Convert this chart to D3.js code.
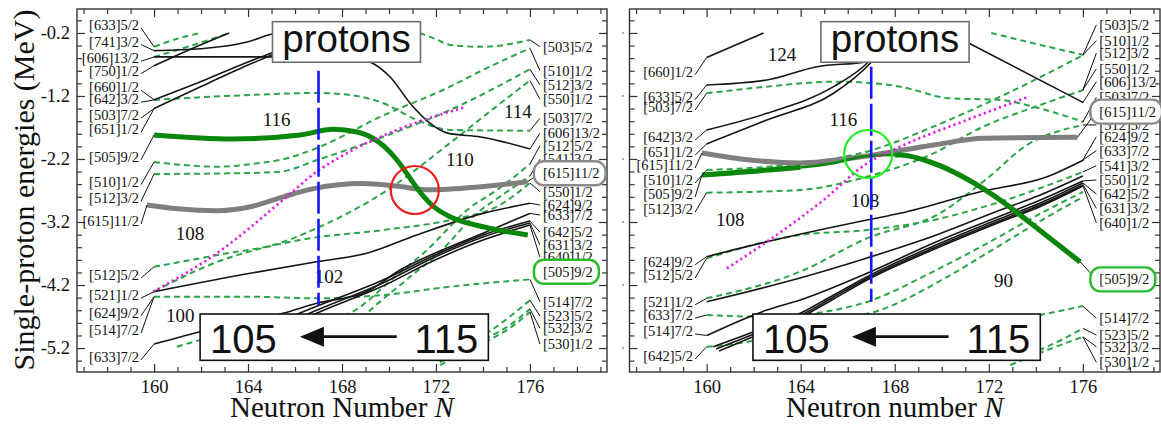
<!DOCTYPE html>
<html><head><meta charset="utf-8">
<script src="https://cdn.jsdelivr.net/npm/d3@7"></script>
<style>body{margin:0;background:#fff}svg{display:block}</style>
</head><body>
<svg id="c" width="1161" height="426"></svg>
<script>
// ---------------- DATA ----------------
const xDomain = [156.72, 179.28];
const yDomain = [0.18, -5.58];
const xMajorTicks = [160, 164, 168, 172, 176];
const xTickLabels = ["160", "164", "168", "172", "176"];
const xMinorTicks = [157,158,159,161,162,163,165,166,167,169,170,171,173,174,175,177,178,179];
const yMajorTicks = [-0.2, -1.2, -2.2, -3.2, -4.2, -5.2];
const yTickLabels = ["-0.2", "-1.2", "-2.2", "-3.2", "-4.2", "-5.2"];
const yMinorTicks = [0.0,-0.4,-0.6,-0.8,-1.0,-1.4,-1.6,-1.8,-2.0,-2.4,-2.6,-2.8,-3.0,-3.4,-3.6,-3.8,-4.0,-4.4,-4.6,-4.8,-5.0,-5.4];

// Left panel levels  [N, E]
const leftBlack = [
  [[160,-0.48],[162,-0.45],[164,-0.34],[164.9,-0.23],[165.2,-0.2]],
  [[160,-0.58],[165,-0.58],[167.5,-0.59],[168.8,-0.62],[169.3,-0.68],[170,-0.88],[171,-1.36],[171.7,-1.62],[172.5,-1.79],[173.9,-1.85],[176,-2.04]],
  [[160,-0.72],[161.6,-0.45],[163.2,-0.2]],
  [[160,-1.26],[162,-0.97],[164,-0.66],[165,-0.52],[167.1,-0.2]],
  [[160,-1.40],[162,-1.05],[164,-0.71],[165,-0.55],[167,-0.2]],
  [[160,-4.306],[164.09,-4.014],[166.92,-3.83],[169.05,-3.697],[171.18,-3.406],[174,-3.063],[176,-2.903]],
  [[160,-5.137],[161.96,-4.941],[165.49,-4.649],[166.92,-4.49],[169.05,-4.306],[170.47,-3.962],[172.6,-3.592],[174,-3.379],[176,-3.063]],
  [[163.23,-5.152],[166.21,-4.645],[169.74,-4.121],[171.87,-3.74],[174,-3.406],[176,-3.184]],
  [[163.66,-5.184],[166.64,-4.645],[169.74,-4.168],[171.87,-3.771],[174,-3.438],[176,-3.216]],
  [[163.96,-5.2],[166.94,-4.645],[169.74,-4.216],[171.87,-3.819],[174,-3.486],[176,-3.248]]
];
const leftDashed = [
  [[160,-0.42],[161,-0.29],[162,-0.2]],
  [[160,-0.58],[161.6,-0.40],[163.2,-0.2]],
  [[160,-1.263],[164.09,-1.184],[166.94,-1.152],[168.34,-1.184],[169.74,-1.311],[171.19,-1.581],[172.6,-1.74],[176,-1.751]],
  [[171.3,-0.2],[172,-0.30],[172.6,-0.39],[174,-0.42],[176,-0.31]],
  [[160,-2.248],[162.68,-2.322],[164.51,-2.263],[165.36,-2.216],[166.94,-2.025],[169.62,-1.533],[172.6,-1.052],[174,-0.787],[176,-0.443]],
  [[160,-2.438],[164.09,-2.422],[165.36,-2.402],[166.94,-2.216],[169.62,-1.867],[172.6,-1.422],[176,-0.776]],
  [[160,-3.91],[162.68,-3.724],[165.49,-3.517],[166.94,-3.295],[169.74,-2.74],[172.6,-1.946],[174,-1.533],[176,-0.954]],
  [[160,-4.303],[162.68,-3.835],[166.21,-3.486],[169.74,-3.327],[172.6,-3.168],[174.72,-2.93],[176,-2.581]],
  [[160,-4.386],[164.09,-4.386],[166.92,-4.411],[169.74,-4.359],[172.6,-4.227],[176,-4.11]],
  [[160.97,-5.179],[161.96,-5.073],[166.21,-4.835],[168.34,-4.645],[170.34,-4.041],[171.62,-3.644],[173.32,-3.01],[174.72,-2.66],[176,-2.279]],
  [[166.21,-5.152],[168.13,-4.994],[168.98,-4.676],[170.89,-4.073],[172.17,-3.676],[173.66,-3.089],[174.94,-2.74],[176,-2.47]],
  [[172.17,-5.311],[174.17,-4.962],[176,-4.44]],
  [[172.17,-5.422],[174.17,-5.041],[175.15,-4.835],[176,-4.581]],
  [[172.17,-5.47],[174.17,-5.089],[175.15,-4.883],[176,-4.629]]
];
const leftGreen = [[160,-1.819],[163.36,-1.882],[166.21,-1.819],[167.62,-1.73],[168.64,-1.771],[169.62,-1.946],[170.34,-2.216],[170.89,-2.502],[171.32,-2.724],[171.87,-2.946],[172.6,-3.116],[174,-3.275],[175.91,-3.406]];
const leftGray = [[159.7,-2.93],[161,-2.99],[162.7,-3.02],[164.2,-2.95],[165.5,-2.80],[166.8,-2.67],[168.9,-2.59],[170.3,-2.63],[171.7,-2.69],[173.9,-2.64],[175.9,-2.56]];
const leftMagenta = [[159.96,-4.306],[162.67,-3.697],[165.49,-2.851],[166.92,-2.402],[168.2,-2.11],[170.33,-1.74],[173.23,-1.379]];
const leftBlue = [[167,-0.798],[167,-4.517]];

// Right panel levels
const rightBlack = [
  [[160,-0.59],[162.42,-0.2]],
  [[160,-1.025],[162.56,-0.946],[164.69,-0.735],[166.82,-0.656],[168.23,-0.438],[169.51,-0.2]],
  [[160,-1.74],[162.56,-1.475],[165.4,-1.052],[166.82,-0.68],[167.9,-0.2]],
  [[160,-1.962],[162.56,-1.581],[165.4,-1.157],[166.96,-0.681],[168.0,-0.2]],
  [[170.32,-0.2],[176.02,-1.305]],
  [[160,-3.751],[162.56,-3.513],[166.82,-3.168],[168.23,-3.062],[171.64,-2.719],[174.48,-2.481],[176.03,-2.216]],
  [[160,-4.465],[163.97,-4.089],[166.82,-3.771],[169.65,-3.422],[172.49,-3.01],[174.19,-2.771],[176,-2.47]],
  [[160.01,-5.0],[162.56,-4.597],[163.98,-4.438],[166.82,-4.014],[169.65,-3.533],[172.49,-3.105],[174.19,-2.851],[176,-2.549]],
  [[160.28,-5.179],[162.56,-4.862],[163.98,-4.649],[165.4,-4.359],[166.82,-4.068],[169.65,-3.581],[172.49,-3.144],[174.19,-2.898],[176,-2.581]],
  [[160.4,-5.216],[162.56,-4.898],[163.98,-4.684],[165.4,-4.391],[166.82,-4.097],[169.65,-3.613],[172.49,-3.176],[174.19,-2.93],[176,-2.613]],
  [[160.53,-5.248],[162.56,-4.93],[163.98,-4.716],[165.4,-4.422],[166.82,-4.121],[169.65,-3.637],[172.49,-3.2],[174.19,-2.954],[176,-2.629]]
];
const rightDashed = [
  [[160,-1.157],[162.56,-1.052],[165.4,-0.973],[166.82,-0.989],[168.23,-1.052],[170.36,-1.237],[172.49,-1.263],[173.89,-1.37],[176.03,-1.613]],
  [[172.1,-0.2],[174.19,-0.39],[176.03,-0.549]],
  [[160,-2.375],[163.97,-2.27],[166.81,-2.084],[169.64,-1.687],[172.49,-1.211],[176.03,-0.549]],
  [[160,-2.735],[163.97,-2.692],[166.81,-2.481],[169.65,-2.11],[171.64,-1.708],[174.19,-1.343],[176.02,-1.105]],
  [[160,-3.776],[163.97,-3.406],[166.82,-3.327],[169.65,-3.168],[172.49,-2.878],[176.0,-2.406]],
  [[160,-4.411],[163.97,-3.989],[166.82,-3.459],[169.94,-3.057],[171.85,-2.533],[173.63,-1.978],[176.02,-1.66]],
  [[160.01,-4.676],[162.56,-4.703],[166.82,-4.47],[167.38,-4.39],[169.51,-4.01],[171.64,-3.597],[174.48,-3.01],[176,-2.724]],
  [[160.01,-5.179],[161.43,-5.12],[163.98,-4.914],[166.11,-4.724],[167.38,-4.597],[170.22,-4.073],[172.35,-3.597],[174.48,-3.121],[176,-2.803]],
  [[170.79,-4.914],[174.19,-4.676],[176,-4.533]],
  [[172.91,-5.39],[174.48,-5.179],[176,-4.887]],
  [[172.91,-5.47],[174.48,-5.232],[176,-5.021]]
];
const rightGreen = [[159.8,-2.454],[162.56,-2.375],[165.4,-2.268],[166.82,-2.152],[168.23,-2.137],[169.65,-2.268],[171.07,-2.517],[172.49,-2.851],[173.77,-3.216],[175.89,-3.835]];
const rightGray = [[159.8,-2.105],[161.85,-2.216],[163.98,-2.263],[166.82,-2.152],[169.65,-1.978],[171.78,-1.871],[175.77,-1.856]];
const rightMagenta = [[160.86,-3.935],[162.56,-3.513],[164.97,-2.851],[166.82,-2.27],[168.23,-2.005],[171.07,-1.581],[173.63,-1.221]];
const rightBlue = [[167,-0.735],[167,-4.465]];

// labels: [text, labelE, targetN, targetE]
const leftPanelLeftLabels = [
  ["[633]5/2",-0.073,160,-0.42],["[741]3/2",-0.338,160,-0.48],["[606]13/2",-0.602,160,-0.58],
  ["[750]1/2",-0.798,160,-0.72],["[660]1/2",-1.062,160,-1.26],["[642]3/2",-1.252,160,-1.263],
  ["[503]7/2",-1.502,160,-1.40],["[651]1/2",-1.729,160,-1.40],["[505]9/2",-2.163,160,-1.819],
  ["[510]1/2",-2.56,160,-2.248],["[512]3/2",-2.824,160,-2.438],["[615]11/2",-3.184,159.7,-2.93],
  ["[512]5/2",-4.041,160,-3.91],["[521]1/2",-4.359,160,-4.306],["[624]9/2",-4.64,160,-4.386],
  ["[514]7/2",-4.914,160,-4.386],["[633]7/2",-5.338,160,-5.137]
];
const leftPanelRightLabels = [
  ["[503]5/2",-0.417,176,-0.31],["[510]1/2",-0.798,176,-0.443],["[512]3/2",-1.025,176,-0.776],
  ["[550]1/2",-1.252,176,-0.954],["[503]7/2",-1.554,176,-1.751],["[606]13/2",-1.792,176,-2.04],
  ["[512]5/2",-1.989,176,-2.279],["[541]3/2",-2.205,176,-2.47],["[615]11/2",-2.427,175.9,-2.56],
  ["[550]1/2",-2.719,176,-2.581],["[624]9/2",-2.93,176,-2.903],["[633]7/2",-3.089,176,-3.063],
  ["[642]5/2",-3.363,176,-3.184],["[631]3/2",-3.565,176,-3.216],["[640]1/2",-3.76,176,-3.248],
  ["[505]9/2",-3.989,null,null],["[514]7/2",-4.465,176,-4.11],["[523]5/2",-4.692,176,-4.44],
  ["[532]3/2",-4.886,176,-4.581],["[530]1/2",-5.137,176,-4.629]
];
const rightPanelLeftLabels = [
  ["[660]1/2",-0.814,160,-0.59],["[633]5/2",-1.211,160,-1.025],["[503]7/2",-1.375,160,-1.157],
  ["[642]3/2",-1.851,160,-1.74],["[651]1/2",-2.089,160,-1.962],["[615]11/2",-2.295,159.8,-2.105],
  ["[510]1/2",-2.533,160,-2.375],["[505]9/2",-2.756,159.8,-2.454],["[512]3/2",-2.994,160,-2.735],
  ["[624]9/2",-3.83,160,-3.751],["[512]5/2",-4.041,160,-3.776],["[521]1/2",-4.465,160,-4.411],
  ["[633]7/2",-4.676,160,-4.676],["[514]7/2",-4.93,160,-5.0],["[642]5/2",-5.327,160,-5.179]
];
const rightPanelRightLabels = [
  ["[503]5/2",-0.073,176,-0.549],["[510]1/2",-0.322,176,-0.549],["[512]3/2",-0.522,176,-1.105],
  ["[550]1/2",-0.771,176,-1.105],["[606]13/2",-0.973,176,-1.305],["[503]7/2",-1.221,176,-1.613],
  ["[615]11/2",-1.449,175.77,-1.856],["[512]5/2",-1.66,176,-1.66],["[624]9/2",-1.846,176,-2.216],
  ["[633]7/2",-2.068,176,-2.216],["[541]3/2",-2.306,176,-2.406],["[550]1/2",-2.533,176,-2.549],
  ["[642]5/2",-2.756,176,-2.58],["[631]3/2",-2.983,176,-2.6],["[640]1/2",-3.211,176,-2.62],
  ["[505]9/2",-4.11,175.89,-3.835],["[514]7/2",-4.729,176,-4.533],["[523]5/2",-4.994,176,-4.887],
  ["[532]3/2",-5.179,176,-5.021],["[530]1/2",-5.427,176,-5.021]
];
const leftNumbers = [["116",165.22,-1.581],["110",173.02,-2.216],["114",175.49,-1.449],["108",161.53,-3.375],["102",167.45,-4.068],["100",161.11,-4.676]];
const rightNumbers = [["124",163.2,-0.549],["116",165.82,-1.581],["108",166.74,-2.851],["108",161.0,-3.168],["90",172.63,-4.121]];
const leftCircle = [171.1, -2.692];
const rightCircle = [166.87, -2.121];
// annotation boxes [N0, N1, E0, E1]
const leftProtonsBox = [165.04, 171.34, -0.021, -0.665];
const rightProtonsBox = [164.86, 171.16, -0.021, -0.665];
const leftArrowBox = [161.96, 174.23, -4.66, -5.395];
const rightArrowBox = [161.97, 174.19, -4.66, -5.395];
const leftArrow = [170.33, 166.21, -5.02];
const rightArrow = [170.29, 166.18, -5.02];
// N ranges where the thick green level is drawn thin (right panel)
const leftGreenThin = [];
const rightGreenThin = [164.0, 168.0];
const boxedLabels = {"[615]11/2": "#8a8a8a", "[505]9/2": "#2bbb2b"};

// ---------------- DRAW ----------------
const svg = d3.select("#c");
const y = d3.scaleLinear().domain(yDomain).range([9, 372]);
const SERIF = "'Liberation Serif','DejaVu Serif',serif";
const SANS = "'Liberation Sans',Arial,sans-serif";

const panels = [
  {key:"L", x:d3.scaleLinear().domain(xDomain).range([77,607]), black:leftBlack, dashed:leftDashed, green:leftGreen, gray:leftGray,
   magenta:leftMagenta, blue:leftBlue, lLabels:leftPanelLeftLabels, rLabels:leftPanelRightLabels, numbers:leftNumbers,
   circle:leftCircle, circleColor:"#ee1c1c", pbox:leftProtonsBox, abox:leftArrowBox, arrow:leftArrow, yLabels:true,
   title:"Neutron Number ", rLabelOff:13, lLabelOff:15, thin:leftGreenThin},
  {key:"R", x:d3.scaleLinear().domain(xDomain).range([629.5,1160]), black:rightBlack, dashed:rightDashed, green:rightGreen, gray:rightGray,
   magenta:rightMagenta, blue:rightBlue, lLabels:rightPanelLeftLabels, rLabels:rightPanelRightLabels, numbers:rightNumbers,
   circle:rightCircle, circleColor:"#22ee22", pbox:rightProtonsBox, abox:rightArrowBox, arrow:rightArrow, yLabels:false,
   title:"Neutron number ", rLabelOff:16.5, lLabelOff:13.5, thin:rightGreenThin}
];

const defs = svg.append("defs");
panels.forEach(P => {
  const x = P.x;
  const g = svg.append("g");
  const [x0, x1] = x.range();
  const clipId = "clip" + P.key;
  defs.append("clipPath").attr("id", clipId).append("rect")
    .attr("x", x0).attr("y", 9).attr("width", x1 - x0).attr("height", 363);
  const line = d3.line().x(d => x(d[0])).y(d => y(d[1])).curve(d3.curveMonotoneX);
  const plot = g.append("g").attr("clip-path", `url(#${clipId})`);

  plot.selectAll(".dash").data(P.dashed).join("path")
    .attr("d", line).attr("fill", "none").attr("stroke", "#2ea44a")
    .attr("stroke-width", 2).attr("stroke-dasharray", "6,4");
  plot.selectAll(".blk").data(P.black).join("path")
    .attr("d", line).attr("fill", "none").attr("stroke", "#151515").attr("stroke-width", 1.6);
  plot.append("path").datum(P.gray).attr("d", line).attr("fill", "none")
    .attr("stroke", "#7f7f7f").attr("stroke-width", 5).attr("stroke-linecap", "butt");

  // thick green level (optionally thinner over an N range)
  if (P.thin.length) {
    const thinId = "thin" + P.key, thickId = "thick" + P.key;
    const cpThin = defs.append("clipPath").attr("id", thinId);
    cpThin.append("rect").attr("x", x(P.thin[0])).attr("y", 0).attr("width", x(P.thin[1]) - x(P.thin[0])).attr("height", 426);
    const cpThick = defs.append("clipPath").attr("id", thickId);
    cpThick.append("rect").attr("x", x0).attr("y", 0).attr("width", x(P.thin[0]) - x0).attr("height", 426);
    cpThick.append("rect").attr("x", x(P.thin[1])).attr("y", 0).attr("width", x1 - x(P.thin[1])).attr("height", 426);
    plot.append("path").datum(P.green).attr("d", line).attr("fill", "none").attr("clip-path", `url(#${thinId})`)
      .attr("stroke", "#0a870a").attr("stroke-width", 2.6);
    plot.append("path").datum(P.green).attr("d", line).attr("fill", "none").attr("clip-path", `url(#${thickId})`)
      .attr("stroke", "#0a870a").attr("stroke-width", 5.2);
  } else {
    plot.append("path").datum(P.green).attr("d", line).attr("fill", "none")
      .attr("stroke", "#0a870a").attr("stroke-width", 5);
  }
  plot.append("path").datum(P.magenta).attr("d", line).attr("fill", "none")
    .attr("stroke", "#e21ae2").attr("stroke-width", 2.6).attr("stroke-dasharray", "2.2,3.2");

  plot.selectAll(".num").data(P.numbers).join("text")
    .attr("x", d => x(d[1])).attr("y", d => y(d[2]))
    .attr("text-anchor", "middle").attr("dominant-baseline", "central")
    .style("font-family", SERIF).style("font-size", "19px").attr("fill", "#111").text(d => d[0]);

  plot.append("path").datum(P.blue).attr("d", line).attr("fill", "none")
    .attr("stroke", "#1515ff").attr("stroke-width", 2.6).attr("stroke-dasharray", "32,5");

  plot.append("circle").attr("cx", x(P.circle[0])).attr("cy", y(P.circle[1])).attr("r", 24)
    .attr("fill", "none").attr("stroke", P.circleColor).attr("stroke-width", 2.2);

  // protons box
  const pb = P.pbox;
  g.append("rect").attr("x", x(pb[0])).attr("y", y(pb[2])).attr("width", x(pb[1]) - x(pb[0]))
    .attr("height", y(pb[3]) - y(pb[2])).attr("fill", "#fff").attr("stroke", "#6e6e6e").attr("stroke-width", 1.6);
  g.append("text").attr("x", (x(pb[0]) + x(pb[1])) / 2).attr("y", y(pb[2]) + 30)
    .attr("text-anchor", "middle").style("font-family", SANS).style("font-size", "38.5px").attr("fill", "#111").text("protons");

  // arrow box
  const ab = P.abox;
  g.append("rect").attr("x", x(ab[0])).attr("y", y(ab[2])).attr("width", x(ab[1]) - x(ab[0]))
    .attr("height", y(ab[3]) - y(ab[2])).attr("fill", "#fff").attr("stroke", "#111").attr("stroke-width", 1.6);
  g.append("text").attr("x", x(ab[0]) + 10).attr("y", y(ab[3]) - 7.5)
    .style("font-family", SANS).style("font-size", "40px").attr("fill", "#111").text("105");
  g.append("text").attr("x", x(ab[1]) - 10).attr("y", y(ab[3]) - 7.5).attr("text-anchor", "end")
    .style("font-family", SANS).style("font-size", "40px").attr("fill", "#111").text("115");
  const ar = P.arrow, ay = y(ar[2]);
  g.append("line").attr("x1", x(ar[0])).attr("x2", x(ar[1]) + 18).attr("y1", ay).attr("y2", ay)
    .attr("stroke", "#111").attr("stroke-width", 2.8);
  g.append("path").attr("d", `M${x(ar[1])},${ay} L${x(ar[1]) + 24},${ay - 10} L${x(ar[1]) + 24},${ay + 10} Z`).attr("fill", "#111");

  // axes (inward ticks)
  const axG = g.append("g");
  axG.append("g").attr("transform", "translate(0,372)")
    .call(d3.axisBottom(x).tickValues(xMajorTicks).tickSize(-8).tickPadding(8).tickFormat((d, i) => xTickLabels[i]));
  axG.append("g").attr("transform", "translate(0,372)").call(d3.axisBottom(x).tickValues(xMinorTicks).tickSize(-5).tickFormat(""));
  axG.append("g").attr("transform", "translate(0,9)").call(d3.axisTop(x).tickValues(xMajorTicks).tickSize(-8).tickFormat(""));
  axG.append("g").attr("transform", "translate(0,9)").call(d3.axisTop(x).tickValues(xMinorTicks).tickSize(-5).tickFormat(""));
  axG.append("g").attr("transform", `translate(${x0},0)`)
    .call(d3.axisLeft(y).tickValues(yMajorTicks).tickSize(-8).tickPadding(7).tickFormat((d, i) => P.yLabels ? yTickLabels[i] : ""));
  axG.append("g").attr("transform", `translate(${x0},0)`).call(d3.axisLeft(y).tickValues(yMinorTicks).tickSize(-5).tickFormat(""));
  axG.append("g").attr("transform", `translate(${x1},0)`).call(d3.axisRight(y).tickValues(yMajorTicks).tickSize(-8).tickFormat(""));
  axG.append("g").attr("transform", `translate(${x1},0)`).call(d3.axisRight(y).tickValues(yMinorTicks).tickSize(-5).tickFormat(""));
  axG.selectAll(".domain").remove();
  axG.selectAll(".tick line").attr("stroke", "#333").attr("stroke-width", 1.2);
  axG.selectAll("text").style("font-family", SERIF).style("font-size", "18.5px").attr("fill", "#111");
  if (!P.yLabels) {
    // faint remnants of tick labels left of the right panel
    g.selectAll(".faint").data(yMajorTicks).join("rect")
      .attr("x", x0 - 7.5).attr("y", d => y(d) - 1).attr("width", 2).attr("height", 2).attr("fill", "#aaa");
  }
  g.append("rect").attr("x", x0).attr("y", 9).attr("width", x1 - x0).attr("height", 363)
    .attr("fill", "none").attr("stroke", "#333").attr("stroke-width", 1.4);

  // x-axis title
  const tt = g.append("text").attr("x", x(168)).attr("y", 417).attr("text-anchor", "middle")
    .style("font-family", SERIF).style("font-size", "29px").attr("fill", "#111");
  tt.append("tspan").text(P.title);
  tt.append("tspan").style("font-style", "italic").text("N");

  // level labels
  const lab = g.append("g").style("font-family", SERIF).style("font-size", "14.5px");
  const xl = x(160) - P.lLabelOff;
  P.lLabels.forEach(d => {
    lab.append("line").attr("x1", xl + 2).attr("y1", y(d[1]) + 3).attr("x2", x(d[2])).attr("y2", y(d[3]))
      .attr("stroke", "#111").attr("stroke-width", 1);
    lab.append("text").attr("x", xl).attr("y", y(d[1])).attr("text-anchor", "end")
      .attr("dominant-baseline", "central").attr("fill", "#111").text(d[0]);
  });
  const xr = x(176) + P.rLabelOff;
  P.rLabels.forEach(d => {
    if (d[2] !== null) {
      lab.append("line").attr("x1", x(d[2])).attr("y1", y(d[3])).attr("x2", xr - 3).attr("y2", y(d[1]))
        .attr("stroke", "#111").attr("stroke-width", 1);
    }
  });
  P.rLabels.forEach(d => {
    if (!boxedLabels[d[0]]) {
      lab.append("text").attr("x", xr).attr("y", y(d[1])).attr("dominant-baseline", "central")
        .attr("fill", "#111").text(d[0]);
    }
  });
  P.rLabels.forEach(d => {
    if (boxedLabels[d[0]]) {
      const t = lab.append("text").attr("x", xr).attr("y", y(d[1])).attr("dominant-baseline", "central")
        .attr("fill", "#111").text(d[0]);
      const bb = t.node().getBBox();
      lab.insert("rect", function(){ return t.node(); })
        .attr("x", bb.x - 9).attr("y", bb.y - 4).attr("width", bb.width + 15).attr("height", bb.height + 8)
        .attr("rx", 10).attr("fill", "#fff").attr("stroke", boxedLabels[d[0]]).attr("stroke-width", 2.4);
    }
  });
});

// y-axis title
svg.append("text").attr("transform", "translate(34,190) rotate(-90)").attr("text-anchor", "middle")
  .style("font-family", SERIF).style("font-size", "30px").attr("fill", "#111").text("Single-proton energies (MeV)");
</script>
</body></html>
